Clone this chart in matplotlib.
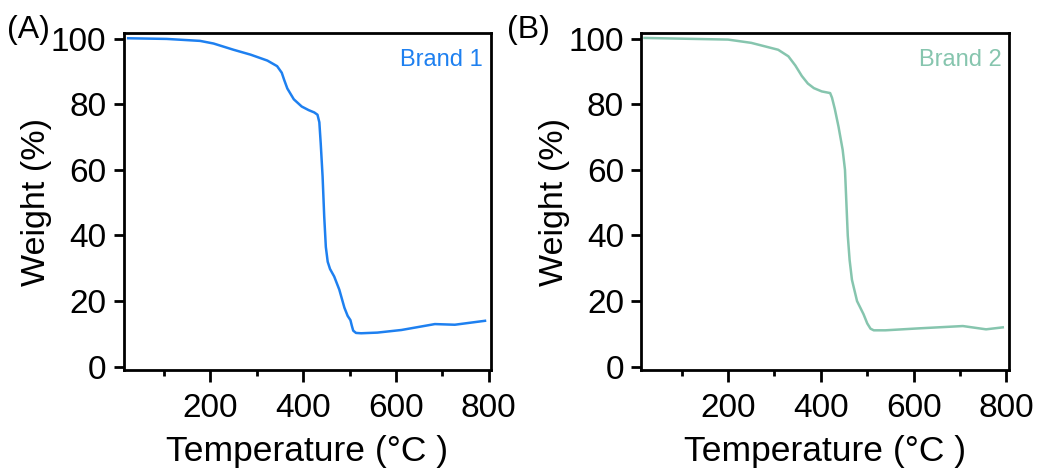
import matplotlib
matplotlib.use("Agg")
import matplotlib.pyplot as plt
from matplotlib.ticker import MultipleLocator

plt.rcParams['font.family'] = ['Liberation Sans', 'DejaVu Sans']

# Brand 1 TGA curve
temp_a = [23, 106, 178, 207, 250, 287, 323, 344, 354, 359, 366, 380, 397, 412, 424, 431, 435,
          438, 442, 445.5, 449, 453, 458, 467, 478, 489, 496, 502, 505, 508, 514, 525, 560, 612, 684, 727, 792]
weight_a = [100.1, 99.9, 99.3, 98.5, 96.6, 95.1, 93.3, 91.6, 89.6, 87.5, 84.8, 81.5, 79.3, 78.2, 77.5, 76.8, 74.5,
            68.0, 58.0, 45.8, 36.5, 32.0, 29.8, 27.5, 23.5, 18.0, 15.5, 14.2, 12.5, 11.0, 10.3, 10.2, 10.4, 11.2, 13.0, 12.8, 14.0]

# Brand 2 TGA curve
temp_b = [20, 200, 250, 308, 330, 345, 359, 372, 385, 402, 420, 424, 430, 438, 447, 452, 455, 458, 462,
          467, 478, 492, 500, 507, 514, 539, 612, 706, 756, 792]
weight_b = [100.2, 99.7, 98.7, 96.6, 94.6, 91.8, 88.6, 86.3, 84.9, 83.9, 83.4, 82.0, 78.6, 73.2, 66.1, 60.0, 50.0, 40.0, 32.5,
            26.5, 20.0, 16.0, 13.2, 11.6, 11.1, 11.1, 11.7, 12.4, 11.4, 12.0]

labels = ["Brand 1", "Brand 2"]
panels = ["(A)", "(B)"]
colors = ["#1E80F0", "#86C5AE"]
yticks = [0, 20, 40, 60, 80, 100]
xticks = [200, 400, 600, 800]

fig = plt.figure(figsize=(10.38, 4.71), dpi=100)
lefts = [0.119, 0.6178]
series = [(temp_a, weight_a), (temp_b, weight_b)]

for i in range(2):
    ax = fig.add_axes([lefts[i], 0.2144, 0.3545, 0.7155])
    t, w = series[i]
    ax.plot(t, w, color=colors[i], lw=1.8, solid_joinstyle='round')
    ax.set_xlim(13, 806)
    ax.set_ylim(-1.0, 101.7)
    ax.set_xticks(xticks)
    ax.xaxis.set_minor_locator(MultipleLocator(100))
    ax.set_yticks(yticks)
    for s in ax.spines.values():
        s.set_linewidth(2.0)
    ax.tick_params(axis='both', which='major', labelsize=24, width=2.0, direction='out')
    ax.tick_params(axis='y', which='major', length=7.5, pad=5)
    ax.tick_params(axis='x', which='major', length=8.5, pad=8)
    ax.tick_params(axis='x', which='minor', length=4.5, width=2.0)
    ax.set_xlabel("Temperature (°C )", fontsize=25.5, labelpad=8)
    ax.set_ylabel("Weight (%)", fontsize=24.5, labelpad=-1)
    ax.text(0.9755 if i == 0 else 0.979, 0.902, labels[i], transform=ax.transAxes,
            ha='right', va='baseline', fontsize=17, color=colors[i])
    fig.text((7 if i == 0 else 507) / 1038, 1 - 38 / 471, panels[i], fontsize=23,
             ha='left', va='baseline')

fig.savefig("out.png", dpi=100)
